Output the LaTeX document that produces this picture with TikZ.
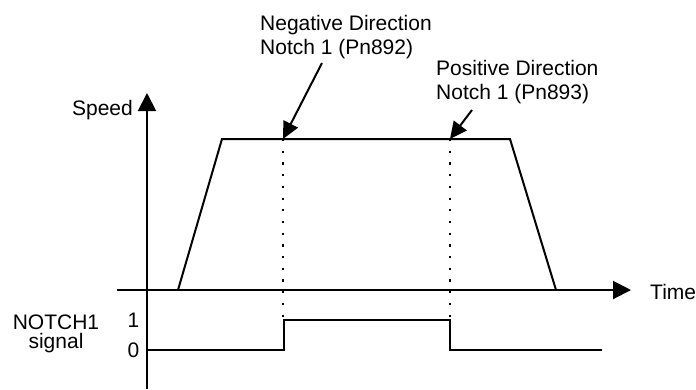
\documentclass[tikz,border=0pt]{standalone}
\usepackage{fontspec}
\setmainfont{Liberation Sans}
\usepackage{tikz}
\usetikzlibrary{positioning,arrows.meta,calc}
\tikzset{
  axisline/.style={line width=2pt,-{Triangle[length=18pt,width=18pt]}},
  curveline/.style={line width=2pt,line join=miter},
  notchline/.style={line width=2.2pt,dash pattern=on 2.2pt off 9.5pt},
  callout/.style={line width=2pt,-{Triangle[length=17pt,width=16pt]}},
  lbl/.style={inner sep=0pt,font=\fontsize{21}{24}\selectfont}
}

\begin{document}
\begin{tikzpicture}[x=1pt,y=-1pt]
  \useasboundingbox (0,0) rectangle (696,389);
  % axes
  \coordinate (orig) at (147,290);
  \coordinate (vtop) at (147,93);
  \coordinate (vbot) at (147,389);
  \coordinate (hleft) at (117,290);
  \coordinate (hright) at (631,290);
  \draw[axisline] (vbot) -- (vtop);
  \draw[axisline] (hleft) -- (hright);
  \node[lbl,anchor=base east] (speed) at (133,115) {Speed};
  \node[lbl,anchor=base west] (time) at (650,299) {Time};
  % speed profile
  \coordinate (acc0) at (178,290);
  \coordinate (acc1) at (222,139);
  \coordinate (dec0) at (510,139);
  \coordinate (dec1) at (556,290);
  \draw[curveline] (acc0) -- (acc1) -- (dec0) -- (dec1);
  % notch positions
  \coordinate (negn) at (283,139);
  \coordinate (posn) at (450,139);
  \foreach \p in {negn,posn}{\draw[notchline] (\p) -- (\p |- 0,318);}
  % NOTCH1 signal
  \coordinate (sig0) at (147,350);
  \coordinate (sigend) at (602,350);
  \draw[curveline] (sig0) -- ($(negn |- sig0)+(1,0)$) -- ($(negn |- 0,320)+(1,0)$)
    -- (posn |- 0,320) -- (posn |- sig0) -- (sigend);
  \node[lbl,anchor=base] (one) at (133.5,327) {1};
  \node[lbl,anchor=base] (zero) at (133.5,357) {0};
  \node[lbl,anchor=north,align=center,font=\fontsize{21}{19}\selectfont] (notchsig) at (56,315) {NOTCH1\\signal};
  % callouts
  \node[lbl,anchor=north west,align=left] (neglbl) at (260,15) {Negative Direction\\Notch 1 (Pn892)};
  \node[lbl,anchor=north west,align=left] (poslbl) at (436,60) {Positive Direction\\Notch 1 (Pn893)};
  \coordinate (negfrom) at (322,63);
  \coordinate (posfrom) at (472,110);
  \draw[callout] (negfrom) -- (negn);
  \draw[callout] (posfrom) -- (posn);
\end{tikzpicture}
\end{document}
